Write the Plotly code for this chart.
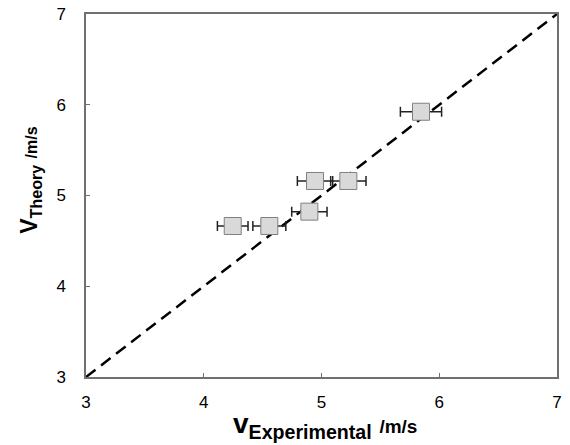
import plotly.graph_objects as go

v_exp = [5.845, 4.945, 5.228, 4.897, 4.246, 4.557]
v_theory = [5.923, 5.16, 5.16, 4.822, 4.664, 4.664]
err_exp = [0.175, 0.15, 0.15, 0.15, 0.13, 0.14]
line_x = [3, 7]
line_y = [3, 7]
ticks = [3, 4, 5, 6, 7]

fig = go.Figure()
fig.add_trace(go.Scatter(
    x=line_x, y=line_y, mode="lines",
    line=dict(color="black", width=2.5, dash="12px,7px"),
    hoverinfo="skip", showlegend=False))
fig.add_trace(go.Scatter(
    x=v_exp, y=v_theory, mode="markers",
    marker=dict(symbol="square", size=17, color="#d9d9d9",
                line=dict(color="#808080", width=1)),
    error_x=dict(type="data", array=err_exp, visible=True,
                 color="#222222", thickness=1.5, width=5),
    showlegend=False))

axis_common = dict(range=[3, 7], tickvals=ticks, showgrid=False, zeroline=False,
                   showline=True, linecolor="#707070", linewidth=1.5, mirror=True,
                   ticks="inside", ticklen=4, tickcolor="#707070", tickwidth=1,
                   automargin=False,
                   tickfont=dict(family="Liberation Sans, Arial", size=17, color="black"))

fig.update_layout(
    width=570, height=445,
    margin=dict(l=86, r=13, t=14, b=68),
    paper_bgcolor="white", plot_bgcolor="white",
    font=dict(family="Liberation Sans, Arial", color="black"),
    xaxis=dict(**axis_common, ticklabelstandoff=9),
    yaxis=dict(**axis_common, ticklabelstandoff=15),
)
fig.add_annotation(
    text="<b>v<sub>Experimental</sub> <span style='font-size:19px'>/m/s</span></b>",
    font=dict(size=28), xref="paper", yref="paper", x=0.507, y=-0.08,
    xanchor="center", yanchor="top", showarrow=False)
fig.add_annotation(
    text="<b>V<sub>Theory</sub> <span style='font-size:16px'>/m/s</span></b>",
    font=dict(size=23), textangle=-90, xref="paper", yref="paper", x=-0.117, y=0.543,
    xanchor="center", yanchor="middle", showarrow=False)
fig.write_html("out.html", config={"displayModeBar": False},
               post_script="document.body.style.margin='0';document.body.style.overflow='hidden';")
